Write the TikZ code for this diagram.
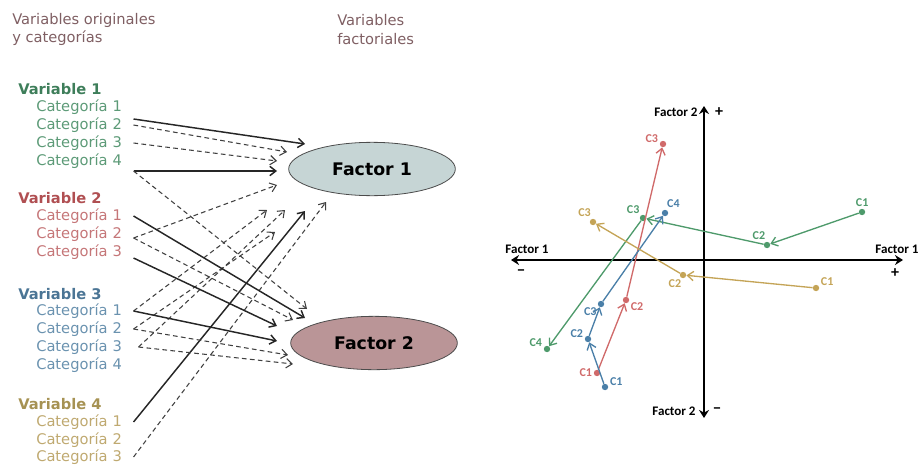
\documentclass[tikz,border=0pt]{standalone}
\usepackage{fontspec}
\setmainfont{DejaVu Sans}
\newfontfamily\plotfont{Carlito}
\usetikzlibrary{arrows.meta,shapes.geometric}

\definecolor{headc}{HTML}{7F5F63}
\definecolor{vgreen}{HTML}{3E7E5A}
\definecolor{cgreen}{HTML}{5C9A77}
\definecolor{vred}{HTML}{B04F52}
\definecolor{cred}{HTML}{C57678}
\definecolor{vblue}{HTML}{4B7595}
\definecolor{cblue}{HTML}{6A92AF}
\definecolor{vgold}{HTML}{A69253}
\definecolor{cgold}{HTML}{BFA970}
\definecolor{fonea}{HTML}{C6D5D5}
\definecolor{ftwoa}{HTML}{BA9597}
\definecolor{pgreen}{HTML}{4E9A6B}
\definecolor{pred}{HTML}{D06A6A}
\definecolor{pblue}{HTML}{4A7FA8}
\definecolor{pgold}{HTML}{C4A457}

\begin{document}
\begin{tikzpicture}[x=0.75pt,y=-0.75pt,
  >={Straight Barb[length=4.5pt,width=7pt]},
  head/.style={anchor=west,inner sep=0pt,align=left,text=headc,font=\fontsize{11}{14}\selectfont},
  var/.style={anchor=west,inner sep=0pt,font=\fontsize{11}{13}\selectfont\bfseries},
  cat/.style={anchor=west,inner sep=0pt,text width=72.75pt,align=left,font=\fontsize{11}{13}\selectfont},
  factor/.style={ellipse,draw=black!70,line width=0.6pt,minimum width=125pt,minimum height=40pt,
    font=\fontsize{13}{15}\selectfont\bfseries},
  link/.style={->,line width=1.1pt,black!85},
  maybe/.style={->,dash pattern=on 3.5pt off 2.5pt,line width=0.8pt,black!75},
  axis/.style={{Stealth[length=6pt,width=7.5pt]}-{Stealth[length=6pt,width=7.5pt]},line width=2.2pt},
  axlab/.style={inner sep=0pt,font=\plotfont\fontsize{9.8}{11}\selectfont\bfseries},
  sign/.style={inner sep=0pt,font=\plotfont\fontsize{12}{12}\selectfont\bfseries},
  dot/.style={circle,fill=#1,inner sep=0pt,minimum size=4.8pt},
  lab/.style={inner sep=1pt,text=#1,font=\plotfont\fontsize{9}{10}\selectfont\bfseries},
  move/.style={->,#1,line width=1pt}]
\useasboundingbox (0,0) rectangle (920,464);

% column titles
\node[head] (h1) at (12,29.5) {Variables originales\\y categorías};
\node[head] (h2) at (337,29.5) {Variables\\factoriales};

% variables and their categories
\node[var,text=vgreen] (v1) at (18,89) {Variable 1};
\node[cat,text=cgreen] (v1c1) at (36,107) {Categoría 1};
\node[cat,text=cgreen] (v1c2) at (36,125) {Categoría 2};
\node[cat,text=cgreen] (v1c3) at (36,143) {Categoría 3};
\node[cat,text=cgreen] (v1c4) at (36,161) {Categoría 4};

\node[var,text=vred] (v2) at (18,198) {Variable 2};
\node[cat,text=cred] (v2c1) at (36,216) {Categoría 1};
\node[cat,text=cred] (v2c2) at (36,234) {Categoría 2};
\node[cat,text=cred] (v2c3) at (36,252) {Categoría 3};

\node[var,text=vblue] (v3) at (18,294) {Variable 3};
\node[cat,text=cblue] (v3c1) at (36,311) {Categoría 1};
\node[cat,text=cblue] (v3c2) at (36,329) {Categoría 2};
\node[cat,text=cblue] (v3c3) at (36,347) {Categoría 3};
\node[cat,text=cblue] (v3c4) at (36,365) {Categoría 4};

\node[var,text=vgold] (v4) at (18,404) {Variable 4};
\node[cat,text=cgold] (v4c1) at (36,422) {Categoría 1};
\node[cat,text=cgold] (v4c2) at (36,440) {Categoría 2};
\node[cat,text=cgold] (v4c3) at (36,457) {Categoría 3};

% factors
\node[factor,fill=fonea] (f1) at (372,169) {Factor 1};
\node[factor,fill=ftwoa] (f2) at (374,343) {Factor 2};

% arrow ends in front of the factors
\coordinate (f1a) at (305,144);
\coordinate (f1b) at (287,152);
\coordinate (f1c) at (277,161);
\coordinate (f1d) at (277,171);
\coordinate (f1e) at (277,185);
\coordinate (f1f) at (267,210);
\coordinate (f1g) at (275,232);
\coordinate (f1h) at (285,210);
\coordinate (f1i) at (305,211);
\coordinate (f1j) at (326,202);
\coordinate (f2a) at (307,309);
\coordinate (f2b) at (305,318);
\coordinate (f2c) at (293,320);
\coordinate (f2d) at (277,326);
\coordinate (f2e) at (277,341);
\coordinate (f2f) at (288,355);
\coordinate (f2g) at (293,364);

% links into factor 1
\draw[link] ([yshift=-9pt]v1c1.east) -- (f1a);
\draw[maybe] (v1c2.east) -- (f1b);
\draw[maybe] (v1c3.east) -- (f1c);
\draw[link] ([yshift=-7.5pt]v1c4.east) -- (f1d);
\draw[maybe] ([yshift=-3pt]v2c2.east) -- (f1e);
\draw[maybe] (v3c1.east) -- (f1f);
\draw[maybe] (v3c2.east) -- (f1g);
\draw[maybe] ([xshift=3.75pt]v3c3.east) -- (f1h);
\draw[link] (v4c1.east) -- (f1i);
\draw[maybe] (v4c3.east) -- (f1j);

% links into factor 2
\draw[maybe] ([yshift=-7.5pt]v1c4.east) -- (f2a);
\draw[link] (v2c1.east) -- (f2b);
\draw[maybe] ([yshift=-3pt]v2c2.east) -- (f2c);
\draw[link] ([yshift=-4.5pt]v2c3.east) -- (f2d);
\draw[link] (v3c1.east) -- (f2e);
\draw[maybe] (v3c2.east) -- (f2f);
\draw[maybe] ([xshift=3.75pt]v3c3.east) -- (f2g);

% factorial plane
\coordinate (xw) at (511,260);
\coordinate (xe) at (903,260);
\coordinate (yn) at (704,106);
\coordinate (ys) at (704,418);
\draw[axis] (xw) -- (xe);
\draw[axis] (ys) -- (yn);
\node[axlab] (xl1) at (527,249) {Factor 1};
\node[axlab] (xl2) at (897,249) {Factor 1};
\node[sign] (xm) at (521,273) {−};
\node[sign] (xp) at (895,273) {+};
\node[axlab] (yl1) at (676,112) {Factor 2};
\node[sign] (yp) at (719,112) {+};
\node[axlab] (yl2) at (674,411) {Factor 2};
\node[sign] (ym) at (717,411) {−};

% variable 1
\node[dot=pgreen,label={[lab=pgreen]88:C1}] (g1) at (862,212) {};
\node[dot=pgreen,label={[lab=pgreen]95:C2}] (g2) at (767,245) {};
\node[dot=pgreen,label={[lab=pgreen]125:C3}] (g3) at (643,218) {};
\node[dot=pgreen,label={[lab=pgreen]165:C4}] (g4) at (547,349) {};
\draw[move=pgreen] (g1) -- (g2);
\draw[move=pgreen] (g2) -- (g3);
\draw[move=pgreen] (g3) -- (g4);

% variable 2
\node[dot=pred,label={[lab=pred]180:C1}] (r1) at (597,373) {};
\node[dot=pred,label={[lab=pred]-25:C2}] (r2) at (626,300) {};
\node[dot=pred,label={[lab=pred]175:C3}] (r3) at (663,144) {};
\draw[move=pred] (r1) -- (r2);
\draw[move=pred] (r2) -- (r3);

% variable 3
\node[dot=pblue,label={[lab=pblue]5:C1}] (b1) at (605,387) {};
\node[dot=pblue,label={[lab=pblue]175:C2}] (b2) at (588,339) {};
\node[dot=pblue,label={[lab=pblue]215:C3}] (b3) at (601,304) {};
\node[dot=pblue,label={[lab=pblue]80:C4}] (b4) at (665,213) {};
\draw[move=pblue] (b1) -- (b2);
\draw[move=pblue] (b2) -- (b3);
\draw[move=pblue] (b3) -- (b4);

% variable 4
\node[dot=pgold,label={[lab=pgold]15:C1}] (y1) at (816,288) {};
\node[dot=pgold,label={[lab=pgold]-95:C2}] (y2) at (683,275) {};
\node[dot=pgold,label={[lab=pgold]100:C3}] (y3) at (593,222) {};
\draw[move=pgold] (y1) -- (y2);
\draw[move=pgold] (y2) -- (y3);
\end{tikzpicture}
\end{document}
